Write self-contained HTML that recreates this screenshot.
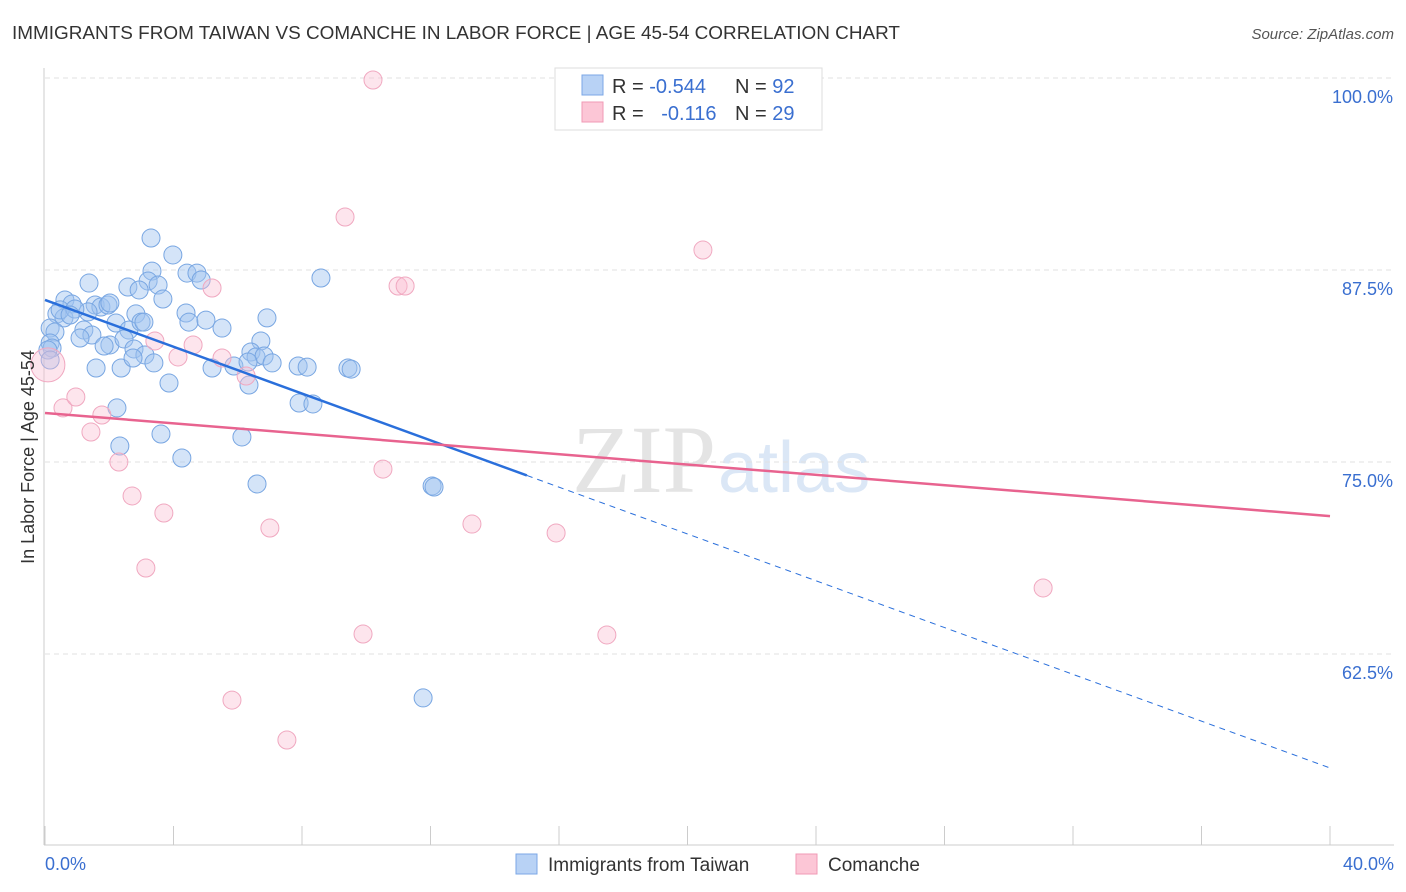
<!DOCTYPE html>
<html><head><meta charset="utf-8">
<style>
body{margin:0;background:#fff;font-family:"Liberation Sans",sans-serif;}
svg{display:block}
</style></head>
<body>
<svg id="chart" width="1406" height="892">
<text x="12" y="39" font-size="18" fill="#333" textLength="888" lengthAdjust="spacingAndGlyphs">IMMIGRANTS FROM TAIWAN VS COMANCHE IN LABOR FORCE | AGE 45-54 CORRELATION CHART</text>
<text x="1394" y="39" font-size="15" fill="#555" font-style="italic" text-anchor="end">Source: ZipAtlas.com</text>
<text x="716" y="492" font-size="96" fill="#e4e4e4" text-anchor="end" font-family="Liberation Serif,serif">ZIP</text>
<text x="718" y="492" font-size="72" fill="#dbe7f6">atlas</text>
<g id="grid"></g>
<g id="axes"></g>
<g id="points"></g>
<g id="trends"></g>
<text transform="translate(34,457) rotate(-90)" font-size="18" fill="#333" text-anchor="middle">In Labor Force | Age 45-54</text>
<g>
<rect x="555" y="68" width="267" height="62" fill="#fff" stroke="#ddd"/>
<rect x="582" y="75" width="21" height="20" fill="#b8d2f5" stroke="#7ba7e6"/>
<rect x="582" y="102" width="21" height="20" fill="#fcc6d6" stroke="#f09ab5"/>
<text x="612" y="93" font-size="20" fill="#333">R = <tspan fill="#3a6fd0">-0.544</tspan></text>
<text x="735" y="93" font-size="20" fill="#333">N = <tspan fill="#3a6fd0">92</tspan></text>
<text x="612" y="120" font-size="20" fill="#333">R = <tspan fill="#3a6fd0" dx="12">-0.116</tspan></text>
<text x="735" y="120" font-size="20" fill="#333">N = <tspan fill="#3a6fd0">29</tspan></text>
</g>
<g>
<rect x="516" y="854" width="21" height="20" fill="#b8d2f5" stroke="#7ba7e6"/>
<text x="548" y="871" font-size="19" fill="#333">Immigrants from Taiwan</text>
<rect x="796" y="854" width="21" height="20" fill="#fcc6d6" stroke="#f09ab5"/>
<text x="828" y="871" font-size="19" fill="#333">Comanche</text>
</g>
</svg>
<script>
const blueX=[3.30,3.98,3.33,3.21,4.42,4.73,4.86,1.37,2.58,2.93,3.52,3.67,8.59,0.62,0.84,1.56,1.74,1.96,2.02,0.37,0.59,1.34,2.83,4.39,4.48,5.01,5.51,6.91,0.16,0.31,1.21,1.46,2.21,2.61,2.99,3.08,1.09,2.02,1.84,2.46,2.77,3.11,6.72,6.41,6.57,6.82,0.16,0.22,1.59,2.37,2.74,3.39,5.20,5.88,6.32,7.07,7.88,8.16,9.43,9.53,3.86,6.35,7.91,8.34,2.24,3.61,6.13,2.33,4.26,6.60,12.05,12.11,11.77,0.47,0.93,0.78,0.09,0.16];
const blueY=[89.58,88.48,87.43,86.78,87.30,87.30,86.85,86.65,86.39,86.20,86.52,85.61,86.98,85.55,85.29,85.22,85.09,85.22,85.35,84.64,84.38,84.77,84.64,84.70,84.11,84.24,83.72,84.38,83.72,83.46,83.59,83.27,84.05,83.59,84.11,84.11,83.07,82.62,82.55,83.01,82.36,81.97,82.88,82.16,81.84,81.90,82.75,82.42,81.12,81.12,81.77,81.45,81.12,81.25,81.51,81.45,81.25,81.18,81.12,81.05,80.14,80.01,78.84,78.78,78.52,76.82,76.63,76.04,75.26,73.57,73.44,73.37,59.64,84.90,84.96,84.57,82.29,81.64];
const pinkX=[10.21,9.34,20.48,5.20,10.99,11.21,3.42,4.61,5.51,4.14,6.26,0.09,0.56,0.96,1.77,1.43,2.30,10.52,2.71,3.70,7.00,13.29,15.91,3.14,31.07,9.90,17.49,5.82,7.53];
const pinkY=[99.87,90.95,88.80,86.33,86.46,86.46,82.88,82.62,81.77,81.84,80.60,81.32,78.52,79.23,78.06,76.95,75.00,74.54,72.79,71.68,70.70,70.96,70.38,68.10,66.80,63.80,63.74,59.50,56.90];
const yTicks=[100,87.5,75,62.5];
const yTickLabels=["100.0%","87.5%","75.0%","62.5%"];
const xTickLabels=["0.0%","40.0%"];
const blueTrend=[85.55,55.08];
const blueSolidEnd=15.0;
const pinkTrend=[78.19,71.48];

const NS="http://www.w3.org/2000/svg";
const X=v=>45+v*32.125;
const Y=v=>78+(100-v)*15.36;
function mk(tag,attrs,parent){const e=document.createElementNS(NS,tag);for(const k in attrs)e.setAttribute(k,attrs[k]);parent.appendChild(e);return e;}
const grid=document.getElementById('grid'),axes=document.getElementById('axes'),pts=document.getElementById('points'),tr=document.getElementById('trends');
yTicks.forEach((t,i)=>{
 const l=mk('line',{x1:45,x2:1394,y1:Y(t),y2:Y(t),stroke:'#e2e2e2','stroke-dasharray':'5,4'},grid);
 
 
 const tx=mk('text',{x:1393,y:Y(t)+25,'font-size':18,fill:'#3a6fd0','text-anchor':'end'},grid);
 tx.textContent=yTickLabels[i];
 
 
});
let a=mk('line',{x1:44,x2:44,y1:68,y2:845,stroke:'#ccc'},axes);


a=mk('line',{x1:44,x2:1394,y1:845,y2:845,stroke:'#ccc'},axes);


for(let k=0;k<=10;k++){
 const t=mk('line',{x1:X(k*4),x2:X(k*4),y1:826,y2:845,stroke:'#ccc'},axes);
 
 
}
[[0,'start',45],[40,'end',1394]].forEach((d,i)=>{
 const t=mk('text',{x:d[2],y:870,'font-size':18,fill:'#3a6fd0','text-anchor':d[1]},axes);
 t.textContent=xTickLabels[i];
 
 
});
blueX.forEach((x,i)=>{
 const c=mk('circle',{cx:X(x),cy:Y(blueY[i]),r:9,fill:'rgba(160,195,240,0.45)',stroke:'#78a6e2','stroke-width':1},pts);
 
 
});
pinkX.forEach((x,i)=>{
 const c=mk('circle',{cx:X(x),cy:Y(pinkY[i]),r:i==11?17:9,fill:'rgba(250,190,210,0.4)',stroke:'#f0a8c0','stroke-width':1},pts);
 
 
});
const by=x=>blueTrend[0]+(blueTrend[1]-blueTrend[0])*x/40;
let l=mk('line',{x1:X(0),y1:Y(by(0)),x2:X(blueSolidEnd),y2:Y(by(blueSolidEnd)),stroke:'#2a6fdb','stroke-width':2.5},tr);


l=mk('line',{x1:X(blueSolidEnd),y1:Y(by(blueSolidEnd)),x2:X(40),y2:Y(by(40)),stroke:'#2a6fdb','stroke-width':1,'stroke-dasharray':'6,5'},tr);


l=mk('line',{x1:X(0),y1:Y(pinkTrend[0]),x2:X(40),y2:Y(pinkTrend[1]),stroke:'#e8638f','stroke-width':2.5},tr);


</script>
</body></html>
